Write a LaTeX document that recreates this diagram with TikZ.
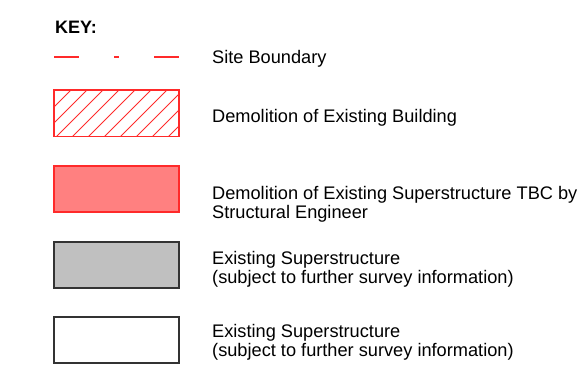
\documentclass[tikz,border=0pt]{standalone}
\usepackage{fontspec}
\setmainfont{Liberation Sans}
\definecolor{keyred}{HTML}{FF2A2A}
\definecolor{keypink}{HTML}{FF8080}
\definecolor{keygrey}{HTML}{C0C0C0}
\definecolor{keyedge}{HTML}{333333}
\tikzset{
  lbl/.style={anchor=base west, inner sep=0pt, font=\fontsize{18.2}{18}\selectfont},
  swatch/.style={line width=1.1pt},
}
\newcommand{\twoline}[2]{\begin{tabular}[t]{@{}l@{}}#1\\#2\end{tabular}}
\begin{document}
\begin{tikzpicture}[x=1pt,y=-1pt]
\useasboundingbox (0,0) rectangle (579,373);
% title
\node[lbl, font=\fontsize{18}{18}\selectfont\bfseries] (key) at (55,33) {KEY:};
% site boundary
\coordinate (d1a) at (54,57); \coordinate (d1b) at (79,57);
\coordinate (d2a) at (114,57); \coordinate (d2b) at (119,57);
\coordinate (d3a) at (154,57); \coordinate (d3b) at (179,57);
\draw[keyred, line width=1.3pt] (d1a) -- (d1b) (d2a) -- (d2b) (d3a) -- (d3b);
\node[lbl] (t1) at (212,63) {Site Boundary};
% hatched
\begin{scope}
  \clip (54,90) rectangle (179,136.5);
  \foreach \c in {129,145,...,337} {
    \draw[keyred, line width=1pt] (\c-140,140) -- (\c-86,86);
  }
\end{scope}
\draw[keyred, swatch] (54,90) rectangle (179,136.5);
\node[lbl] (t2) at (212,122.5) {Demolition of Existing Building};
% pink
\draw[keyred, fill=keypink, swatch] (54,166) rectangle (179,212);
\node[lbl] (t3) at (212,199.5) {\twoline{Demolition of Existing Superstructure TBC by}{Structural Engineer}};
% grey
\draw[keyedge, fill=keygrey, swatch] (54,242) rectangle (179,288);
\node[lbl] (t4) at (212,264.5) {\twoline{Existing Superstructure}{(subject to further survey information)}};
% white
\draw[keyedge, fill=white, swatch] (54,317) rectangle (179,363);
\node[lbl] (t5) at (212,337.5) {\twoline{Existing Superstructure}{(subject to further survey information)}};
\end{tikzpicture}
\end{document}
